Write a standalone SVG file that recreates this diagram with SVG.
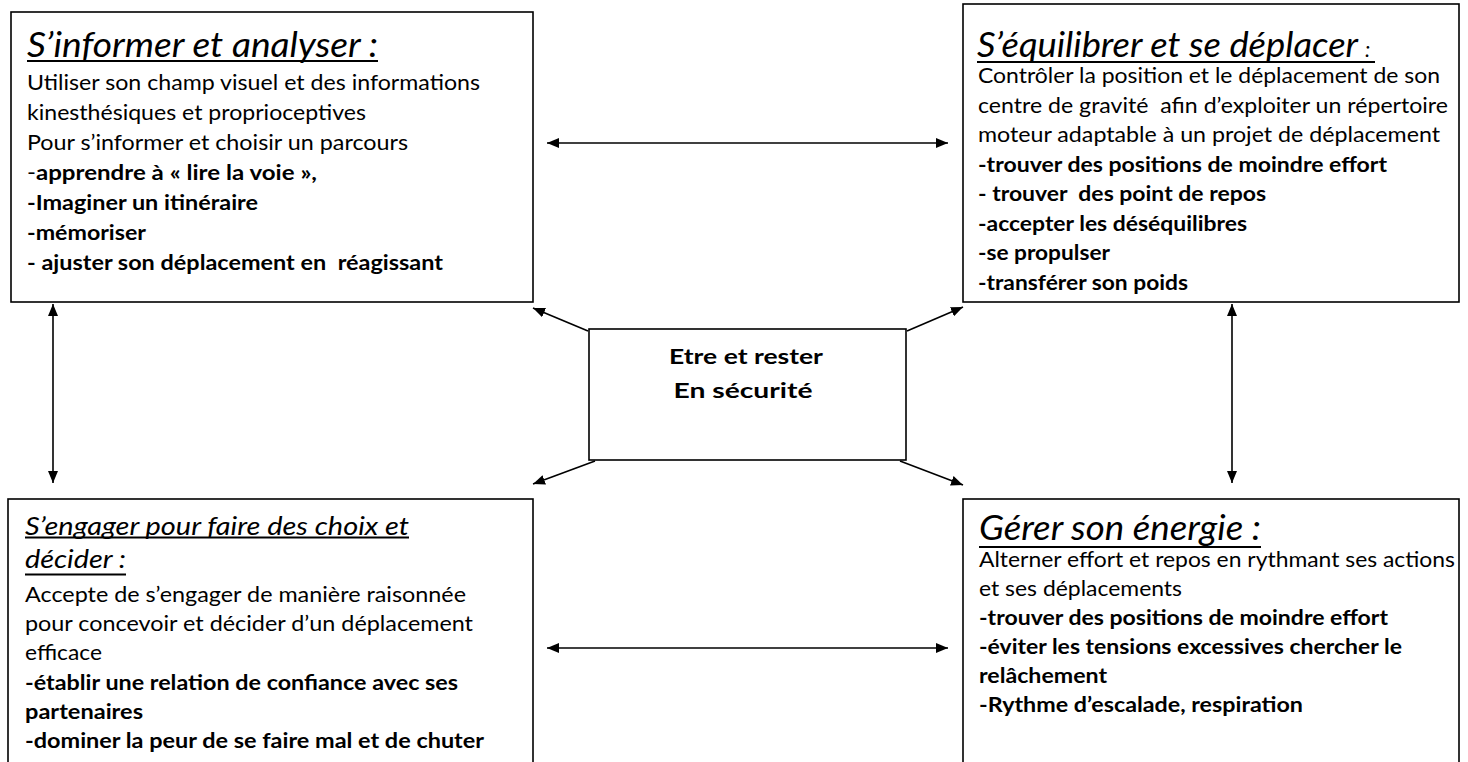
<svg xmlns="http://www.w3.org/2000/svg" width="1468" height="762" viewBox="0 0 1468 762">
<style>
.box{fill:#fff;stroke:#000;stroke-width:1.6}
.t{font-family:Lato,"Open Sans","Liberation Sans",sans-serif;font-size:21px;fill:#000}
.b{font-weight:bold}
.ti{font-family:Lato,"Open Sans","Liberation Sans",sans-serif;font-style:italic;fill:#000}
.ul{stroke:#000;stroke-width:2}
.c{stroke:#000;stroke-width:1.6;fill:none}
</style>
<defs>
<marker id="ah" viewBox="0 0 12 10" refX="12" refY="5" markerWidth="12" markerHeight="10" markerUnits="userSpaceOnUse" orient="auto-start-reverse">
<path d="M0,0 L12,5 L0,10 z" fill="#000"/>
</marker>
<clipPath id="clipTR"><rect x="963" y="4" width="496" height="291"/></clipPath>
</defs>
<rect width="1468" height="762" fill="#fff"/>

<g id="connectors">
<line class="c" x1="547" y1="143" x2="948" y2="143" marker-start="url(#ah)" marker-end="url(#ah)"/>
<line class="c" x1="547" y1="648" x2="948" y2="648" marker-start="url(#ah)" marker-end="url(#ah)"/>
<line class="c" x1="53" y1="304" x2="53" y2="483" marker-start="url(#ah)" marker-end="url(#ah)"/>
<line class="c" x1="1232" y1="304" x2="1232" y2="483" marker-start="url(#ah)" marker-end="url(#ah)"/>
<line class="c" x1="588" y1="331" x2="533" y2="308" marker-end="url(#ah)"/>
<line class="c" x1="907" y1="331" x2="963" y2="307" marker-end="url(#ah)"/>
<line class="c" x1="595" y1="461" x2="533" y2="484" marker-end="url(#ah)"/>
<line class="c" x1="900" y1="461" x2="963" y2="485" marker-end="url(#ah)"/>
</g>

<g id="node-informer">
<rect class="box" x="11" y="12" width="522" height="290"/>
<text class="ti" x="27" y="57" font-size="35" textLength="351" lengthAdjust="spacingAndGlyphs">S’informer et analyser :</text>
<line class="ul" x1="27" y1="61" x2="378" y2="61"/>
<text class="t" x="27" y="90" textLength="453" lengthAdjust="spacingAndGlyphs">Utiliser son champ visuel et des informations</text>
<text class="t" x="27" y="120" textLength="339" lengthAdjust="spacingAndGlyphs">kinesthésiques et proprioceptives</text>
<text class="t" x="27" y="150" textLength="381" lengthAdjust="spacingAndGlyphs">Pour s’informer et choisir un parcours</text>
<text class="t" x="27" y="180" textLength="290" lengthAdjust="spacingAndGlyphs">-<tspan class="b">apprendre à « lire la voie »,</tspan></text>
<text class="t b" x="27" y="210" textLength="231" lengthAdjust="spacingAndGlyphs">-Imaginer un itinéraire</text>
<text class="t b" x="27" y="240" textLength="119" lengthAdjust="spacingAndGlyphs">-mémoriser</text>
<text class="t b" x="27" y="270" xml:space="preserve" textLength="416" lengthAdjust="spacingAndGlyphs">- ajuster son déplacement en  réagissant</text>
</g>

<g id="node-equilibrer">
<rect class="box" x="963" y="4" width="496" height="298"/>
<g clip-path="url(#clipTR)">
<text class="ti" x="977" y="57" font-size="35" textLength="381" lengthAdjust="spacingAndGlyphs">S’équilibrer et se déplacer</text>
<text class="ti" x="1365" y="57" font-size="21">:</text>
<line class="ul" x1="977" y1="62" x2="1375" y2="62"/>
<text class="t" x="978" y="83" textLength="462" lengthAdjust="spacingAndGlyphs">Contrôler la position et le déplacement de son</text>
<text class="t" x="978" y="112.5" xml:space="preserve" textLength="470" lengthAdjust="spacingAndGlyphs">centre de gravité  afin d’exploiter un répertoire</text>
<text class="t" x="978" y="142" textLength="462" lengthAdjust="spacingAndGlyphs">moteur adaptable à un projet de déplacement</text>
<text class="t b" x="978" y="171.5" textLength="409" lengthAdjust="spacingAndGlyphs">-trouver des positions de moindre effort</text>
<text class="t b" x="978" y="201" xml:space="preserve" textLength="288" lengthAdjust="spacingAndGlyphs">- trouver  des point de repos</text>
<text class="t b" x="978" y="230.5" textLength="269" lengthAdjust="spacingAndGlyphs">-accepter les déséquilibres</text>
<text class="t b" x="978" y="260" textLength="132" lengthAdjust="spacingAndGlyphs">-se propulser</text>
<text class="t b" x="978" y="290" textLength="210" lengthAdjust="spacingAndGlyphs">-transférer son poids</text>
</g>
</g>

<g id="node-securite">
<rect class="box" x="589" y="329" width="317" height="131"/>
<text class="t b" x="746" y="364" text-anchor="middle" font-size="22" textLength="154" lengthAdjust="spacingAndGlyphs">Etre et rester</text>
<text class="t b" x="743" y="398" text-anchor="middle" font-size="22" textLength="139" lengthAdjust="spacingAndGlyphs">En sécurité</text>
</g>

<g id="node-engager">
<rect class="box" x="8" y="499" width="525" height="300"/>
<text class="ti" x="25" y="535" font-size="26" textLength="384" lengthAdjust="spacingAndGlyphs">S’engager pour faire des choix et</text>
<line class="ul" x1="25" y1="537.5" x2="409" y2="537.5"/>
<text class="ti" x="25" y="568" font-size="26" textLength="101" lengthAdjust="spacingAndGlyphs">décider :</text>
<line class="ul" x1="25" y1="574.5" x2="126" y2="574.5"/>
<text class="t" x="25" y="602" textLength="441" lengthAdjust="spacingAndGlyphs">Accepte de s’engager de manière raisonnée</text>
<text class="t" x="25" y="631" textLength="448" lengthAdjust="spacingAndGlyphs">pour concevoir et décider d’un déplacement</text>
<text class="t" x="25" y="660" textLength="77" lengthAdjust="spacingAndGlyphs">efficace</text>
<text class="t b" x="25" y="690" textLength="433" lengthAdjust="spacingAndGlyphs">-établir une relation de confiance avec ses</text>
<text class="t b" x="25" y="719" textLength="118" lengthAdjust="spacingAndGlyphs">partenaires</text>
<text class="t b" x="25" y="748" textLength="459" lengthAdjust="spacingAndGlyphs">-dominer la peur de se faire mal et de chuter</text>
</g>

<g id="node-energie">
<rect class="box" x="963" y="499" width="496" height="300"/>
<text class="ti" x="979" y="540" font-size="35" textLength="282" lengthAdjust="spacingAndGlyphs">Gérer son énergie :</text>
<line class="ul" x1="979" y1="547" x2="1261" y2="547"/>
<text class="t" x="979" y="567" textLength="476" lengthAdjust="spacingAndGlyphs">Alterner effort et repos en rythmant ses actions</text>
<text class="t" x="979" y="596" textLength="203" lengthAdjust="spacingAndGlyphs">et ses déplacements</text>
<text class="t b" x="979" y="625" textLength="409" lengthAdjust="spacingAndGlyphs">-trouver des positions de moindre effort</text>
<text class="t b" x="979" y="654" textLength="423" lengthAdjust="spacingAndGlyphs">-éviter les tensions excessives chercher le</text>
<text class="t b" x="979" y="683" textLength="128" lengthAdjust="spacingAndGlyphs">relâchement</text>
<text class="t b" x="979" y="712" textLength="324" lengthAdjust="spacingAndGlyphs">-Rythme d’escalade, respiration</text>
</g>
</svg>
